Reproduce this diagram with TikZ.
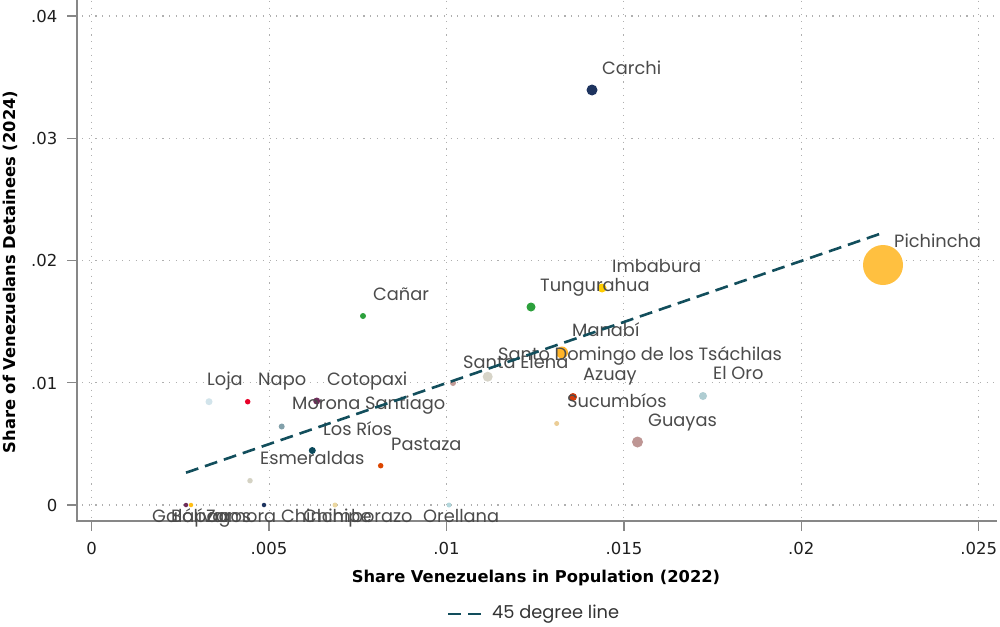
\documentclass[tikz,border=0pt]{standalone}
\usepackage{fontspec}
\setmainfont{DejaVu Sans}
\newfontfamily\lblfont{Poppins}
\definecolor{lblgray}{RGB}{75,75,75}
\definecolor{axgray}{RGB}{135,135,135}
\definecolor{grdgray}{RGB}{175,175,175}
\definecolor{lineteal}{RGB}{18,78,92}
\definecolor{cnavy}{RGB}{30,52,95}
\definecolor{cpich}{RGB}{255,192,64}
\definecolor{cgold}{RGB}{255,205,0}
\definecolor{cgreen}{RGB}{44,160,60}
\definecolor{cmanabi}{RGB}{255,180,40}
\definecolor{cstodom}{RGB}{215,212,200}
\definecolor{cstael}{RGB}{195,155,150}
\definecolor{cazuay}{RGB}{215,60,10}
\definecolor{csucu}{RGB}{235,205,150}
\definecolor{celoro}{RGB}{175,205,210}
\definecolor{cguayas}{RGB}{190,150,148}
\definecolor{cloja}{RGB}{210,228,235}
\definecolor{cnapo}{RGB}{232,0,40}
\definecolor{ccoto}{RGB}{110,45,90}
\definecolor{cmorona}{RGB}{130,160,170}
\definecolor{closrios}{RGB}{10,72,90}
\definecolor{cpastaza}{RGB}{220,70,0}
\definecolor{cesm}{RGB}{212,210,195}
\definecolor{cboli}{RGB}{255,190,20}
\definecolor{cchimb}{RGB}{235,215,160}
\definecolor{corell}{RGB}{180,215,220}
\begin{document}
\begin{tikzpicture}[x=1pt,y=-1pt,
  gridln/.style={draw=grdgray,line width=1.1pt,dash pattern=on 1.1pt off 5.6pt},
  axln/.style={draw=axgray,line width=1.6pt},
  tickln/.style={draw=axgray,line width=1.4pt},
  ticklbl/.style={inner sep=0pt,font=\fontsize{16.5}{19}\selectfont,text=black!88},
  axtitle/.style={inner sep=0pt,font=\bfseries\fontsize{16.3}{19}\selectfont,text=black},
  mk/.style 2 args={circle,inner sep=0pt,minimum size=#1,fill=#2,draw=none},
  lbl/.style={anchor=base west,inner sep=0pt,font=\lblfont\fontsize{17.8}{20}\selectfont,text=lblgray},
  fortyfive/.style={draw=lineteal,line width=2.6pt,dash pattern=on 13pt off 7pt}]
\useasboundingbox (0,0) rectangle (1000,626);
\fill[white] (0,0) rectangle (1000,626);
% grid
\foreach \yy in {505,382.75,260.5,138.25,16} \draw[gridln] (82,\yy) -- (996,\yy);
\foreach \xx in {91.7,269.1,446.5,623.9,801.3,978.7} \draw[gridln] (\xx,1) -- (\xx,517);
% axes
\draw[axln] (77,0) -- (77,521.8);
\draw[axln] (76.2,521) -- (997,521);
\foreach \yy in {505,382.75,260.5,138.25,16} \draw[tickln] (67,\yy) -- (77,\yy);
\foreach \xx in {91.7,269.1,446.5,623.9,801.3,978.7} \draw[tickln] (\xx,521) -- (\xx,531);
% tick labels
\node[ticklbl,anchor=base east] (y0) at (57.5,511.3) {0};
\node[ticklbl,anchor=base east] (y1) at (57.5,389.05) {.01};
\node[ticklbl,anchor=base east] (y2) at (57.5,266.8) {.02};
\node[ticklbl,anchor=base east] (y3) at (57.5,144.55) {.03};
\node[ticklbl,anchor=base east] (y4) at (57.5,22.3) {.04};
\node[ticklbl,anchor=base] (x0) at (91.7,554) {0};
\node[ticklbl,anchor=base] (x1) at (269.1,554) {.005};
\node[ticklbl,anchor=base] (x2) at (446.5,554) {.01};
\node[ticklbl,anchor=base] (x3) at (623.9,554) {.015};
\node[ticklbl,anchor=base] (x4) at (801.3,554) {.02};
\node[ticklbl,anchor=base] (x5) at (978.7,554) {.025};
% axis titles
\node[axtitle,anchor=base] (xt) at (536,582) {Share Venezuelans in Population (2022)};
\node[axtitle,anchor=base,rotate=90] (yt) at (15.5,272) {Share of Venezuelans Detainees (2024)};
% markers
\node[mk={11pt}{cnavy}] (carchi) at (592,90) {};
\node[mk={40pt}{cpich}] (pich) at (883,265) {};
\node[mk={9pt}{cgold}] (imba) at (602,288) {};
\node[mk={9pt}{cgreen}] (tung) at (531,307) {};
\node[mk={6pt}{cgreen}] (canar) at (363,316) {};
\node[mk={12pt}{cmanabi}] (manabi) at (562,352.5) {};
\node[mk={10pt}{cstodom}] (stodom) at (487.7,376.7) {};
\node[mk={6pt}{cstael}] (stael) at (453,383) {};
\node[mk={8pt}{cazuay}] (azuay) at (573,397) {};
\node[mk={5pt}{csucu}] (sucu) at (556.7,423.5) {};
\node[mk={8pt}{celoro}] (eloro) at (703,396) {};
\node[mk={11pt}{cguayas}] (guayas) at (637.5,442) {};
\node[mk={7pt}{cloja}] (loja) at (209,401.7) {};
\node[mk={5.5pt}{cnapo}] (napo) at (247.7,401.7) {};
\node[mk={7pt}{ccoto}] (coto) at (316.7,401) {};
\node[mk={6pt}{cmorona}] (morona) at (281.7,426.5) {};
\node[mk={7pt}{closrios}] (losrios) at (312.3,450.5) {};
\node[mk={5.5pt}{cpastaza}] (pastaza) at (380.7,465.7) {};
\node[mk={5.5pt}{cesm}] (esm) at (250,480.7) {};
\node[mk={4.5pt}{ccoto}] (gala) at (186,505) {};
\node[mk={4.5pt}{cboli}] (boli) at (191,505) {};
\node[mk={4.5pt}{cnavy}] (zamora) at (264,505) {};
\node[mk={5pt}{cchimb}] (chimb) at (335,505) {};
\node[mk={5pt}{corell}] (orell) at (449,505) {};
% labels
\node[lbl] (carchiL) at (602,74.5) {Carchi};
\node[lbl] (pichL) at (894,247.5) {Pichincha};
\node[lbl] (imbaL) at (612,272.5) {Imbabura};
\node[lbl] (tungL) at (540,291.5) {Tungurahua};
\node[lbl] (canarL) at (373,300.5) {Cañar};
\node[lbl] (manabiL) at (572,336.5) {Manabí};
\node[lbl] (stodomL) at (498,360.5) {Santo Domingo de los Tsáchilas};
\node[lbl] (staelL) at (463,368.5) {Santa Elena};
\node[lbl] (azuayL) at (583,380.5) {Azuay};
\node[lbl] (sucuL) at (567,407.5) {Sucumbíos};
\node[lbl] (eloroL) at (713,379.5) {El Oro};
\node[lbl] (guayasL) at (648,426.5) {Guayas};
\node[lbl] (lojaL) at (207,385.5) {Loja};
\node[lbl] (napoL) at (258,385.5) {Napo};
\node[lbl] (cotoL) at (327,385.5) {Cotopaxi};
\node[lbl] (moronaL) at (292,409.5) {Morona Santiago};
\node[lbl] (losriosL) at (323,435.5) {Los Ríos};
\node[lbl] (pastazaL) at (391,450.5) {Pastaza};
\node[lbl] (esmL) at (260,464.5) {Esmeraldas};
\node[lbl] (galaL) at (152,522.5) {Galápagos};
\node[lbl] (boliL) at (171,522.5) {Bolívar};
\node[lbl] (zamoraL) at (206,522.5) {Zamora Chinchipe};
\node[lbl] (chimbL) at (303,522.5) {Chimborazo};
\node[lbl] (orellL) at (423,522.5) {Orellana};
% 45 degree line
\coordinate (ls) at (186,472.7);
\coordinate (le) at (883.3,232.7);
\draw[fortyfive] (ls) -- (le);
% legend
\coordinate (lg1) at (448,614);
\coordinate (lg2) at (481,614);
\draw[fortyfive] (lg1) -- (lg2);
\node[lbl,anchor=west,text=black!80] (legT) at (492,614) {45 degree line};
\end{tikzpicture}
\end{document}
